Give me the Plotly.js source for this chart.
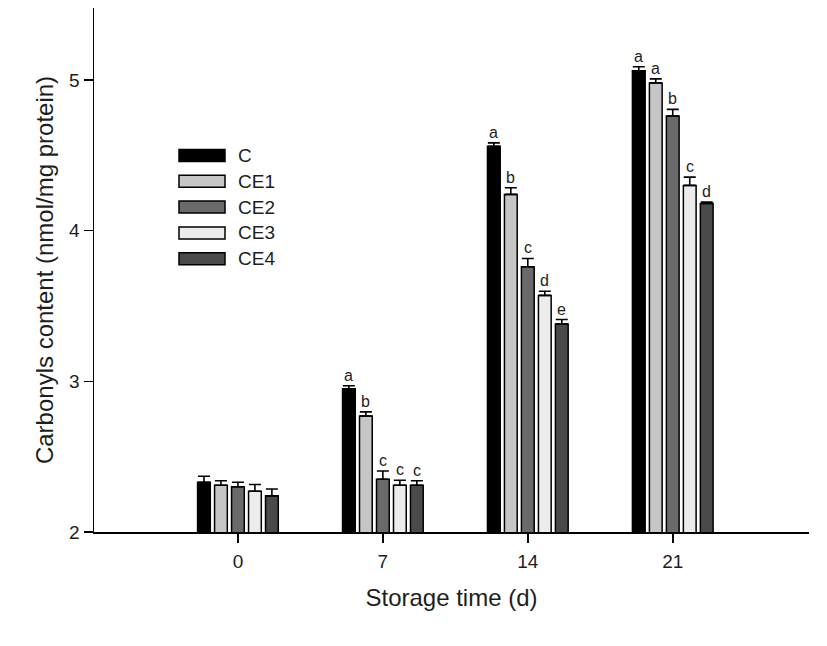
<!DOCTYPE html>
<html>
<head>
<meta charset="utf-8">
<script src="https://cdn.plot.ly/plotly-3.0.1.min.js"></script>
<style>html,body{margin:0;padding:0;background:#fff;}#chart{width:827px;height:646px;}</style>
</head>
<body>
<div id="chart"></div>
<script>
// ---- data ----
const days = ['0', '7', '14', '21'];
const seriesNames = ['C', 'CE1', 'CE2', 'CE3', 'CE4'];
const C   = [2.33, 2.95, 4.56, 5.06];
const CE1 = [2.31, 2.77, 4.24, 4.98];
const CE2 = [2.30, 2.35, 3.76, 4.76];
const CE3 = [2.27, 2.31, 3.57, 4.30];
const CE4 = [2.24, 2.31, 3.38, 4.18];
const errC   = [0.04, 0.02, 0.022, 0.027];
const errCE1 = [0.03, 0.027, 0.044, 0.027];
const errCE2 = [0.03, 0.055, 0.055, 0.044];
const errCE3 = [0.045, 0.033, 0.027, 0.055];
const errCE4 = [0.045, 0.03, 0.03, 0.01];
const lettersC   = ['', 'a', 'a', 'a'];
const lettersCE1 = ['', 'b', 'b', 'a'];
const lettersCE2 = ['', 'c', 'c', 'b'];
const lettersCE3 = ['', 'c', 'd', 'c'];
const lettersCE4 = ['', 'c', 'e', 'd'];

const values = [C, CE1, CE2, CE3, CE4];
const errors = [errC, errCE1, errCE2, errCE3, errCE4];
const letters = [lettersC, lettersCE1, lettersCE2, lettersCE3, lettersCE4];
const colors = ['#000000', '#c6c6c6', '#6a6a6a', '#ececec', '#4a4a4a'];

// ---- layout params ----
const W = 827, H = 646;
const M = {l: 94, r: 18, t: 8, b: 114};
const bargap = 0.414;
const xpos = days.map((d, i) => i);
const font = 'Liberation Sans, Arial, sans-serif';
const txt = '#1e1e1e';

const traces = seriesNames.map((name, s) => ({
  type: 'bar',
  name: name,
  x: xpos,
  y: values[s],
  marker: {color: colors[s], line: {color: '#000', width: 1.5}},
  error_y: {type: 'data', array: errors[s], arrayminus: errors[s].map(() => 0),
            symmetric: false, color: '#000', thickness: 1.6, width: 6},
  showlegend: false,
  hoverinfo: 'x+y'
}));

const annotations = [];
const groupW = 1 - bargap;
const slot = groupW / seriesNames.length;
seriesNames.forEach((name, s) => {
  xpos.forEach((g, i) => {
    if (!letters[s][i]) return;
    annotations.push({
      x: g - groupW / 2 + (s + 0.5) * slot,
      y: values[s][i] + errors[s][i],
      xref: 'x', yref: 'y',
      text: letters[s][i],
      showarrow: false,
      yanchor: 'bottom',
      yshift: 0,
      font: {family: font, size: 16, color: txt}
    });
  });
});

// legend drawn as boxes + labels
const plotW = W - M.l - M.r, plotH = H - M.t - M.b;
const px2x = p => (p - M.l) / plotW;
const px2y = p => (H - M.b - p) / plotH;
const shapes = [];
seriesNames.forEach((name, s) => {
  const cy = 155.5 + s * 25.8;
  shapes.push({
    type: 'rect', xref: 'paper', yref: 'paper',
    x0: px2x(179), x1: px2x(225), y0: px2y(cy + 6), y1: px2y(cy - 6),
    fillcolor: colors[s], line: {color: '#000', width: 1.5}
  });
  annotations.push({
    xref: 'paper', yref: 'paper', x: px2x(236), y: px2y(cy),
    xanchor: 'left', yanchor: 'middle', showarrow: false,
    text: name, font: {family: font, size: 19, color: txt}
  });
});

const layout = {
  width: W, height: H,
  margin: M,
  paper_bgcolor: '#fff', plot_bgcolor: '#fff',
  barmode: 'group',
  bargap: bargap,
  bargroupgap: 0.25,
  showlegend: false,
  font: {family: font, color: txt},
  xaxis: {
    range: [-0.993, 3.94],
    tickmode: 'array', tickvals: xpos, ticktext: days,
    ticks: 'outside', ticklen: 9, tickwidth: 1.5, tickcolor: '#000',
    showline: true, linecolor: '#000', linewidth: 1.5,
    showgrid: false, zeroline: false,
    tickfont: {family: font, size: 19, color: txt},
    ticklabelstandoff: 3,
    title: {text: 'Storage time (d)', font: {family: font, size: 24, color: txt}, standoff: 18}
  },
  yaxis: {
    range: [2, 5.477],
    tickvals: [2, 3, 4, 5],
    ticks: 'outside', ticklen: 9, tickwidth: 1.5, tickcolor: '#000',
    showline: true, linecolor: '#000', linewidth: 1.5,
    showgrid: false, zeroline: false,
    tickfont: {family: font, size: 19, color: txt},
    ticklabelstandoff: 0,
    title: {text: 'Carbonyls content (nmol/mg protein)', font: {family: font, size: 24, color: txt}, standoff: 8}
  },
  annotations: annotations,
  shapes: shapes
};

Plotly.newPlot('chart', traces, layout, {displayModeBar: false, staticPlot: true});
</script>
</body>
</html>
